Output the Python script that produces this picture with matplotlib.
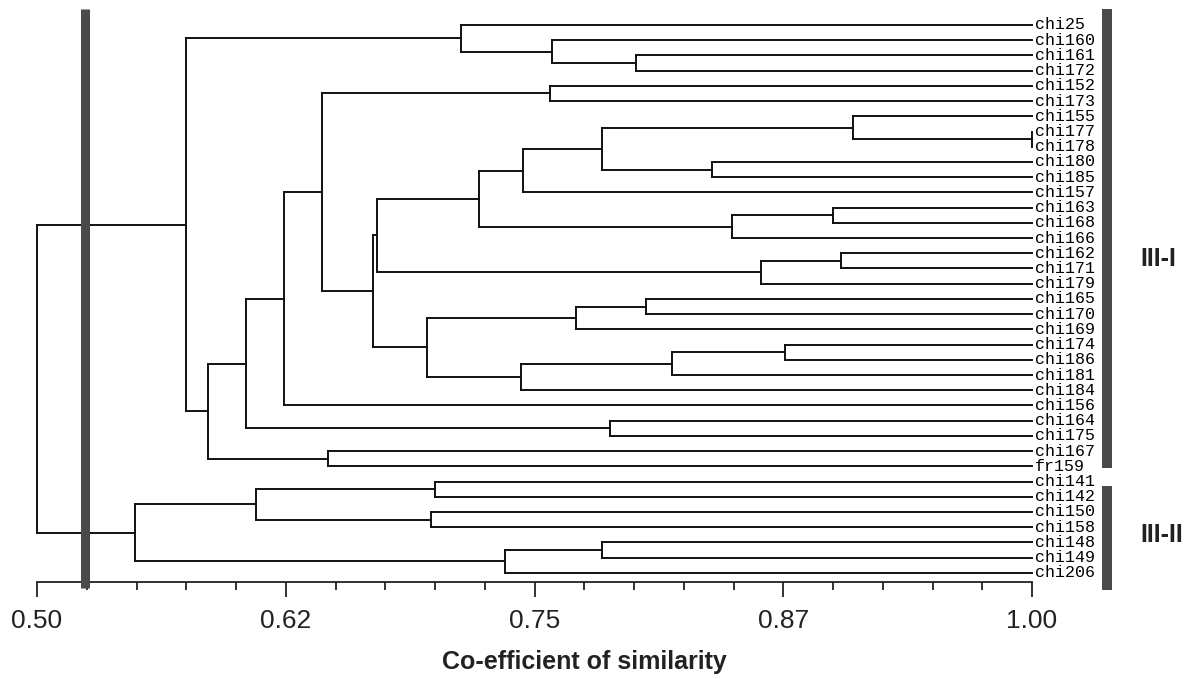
import matplotlib
matplotlib.use("Agg")
import matplotlib.pyplot as plt
from matplotlib.ticker import FixedLocator, MultipleLocator

# leaf order, top to bottom
leaves = ["chi25", "chi160", "chi161", "chi172", "chi152", "chi173", "chi155",
          "chi177", "chi178", "chi180", "chi185", "chi157", "chi163", "chi168",
          "chi166", "chi162", "chi171", "chi179", "chi165", "chi170", "chi169",
          "chi174", "chi186", "chi181", "chi184", "chi156", "chi164", "chi175",
          "chi167", "fr159", "chi141", "chi142", "chi150", "chi158", "chi148",
          "chi149", "chi206"]

# (new node, upper child, lower child, similarity at the join)
merges = [
    ("m1", "chi161", "chi172", 0.801),
    ("m2", "chi160", "m1", 0.759),
    ("m3", "chi25", "m2", 0.713),
    ("m4", "chi152", "chi173", 0.758),
    ("m5", "chi177", "chi178", 1.000),
    ("m6", "chi155", "m5", 0.910),
    ("m7", "chi180", "chi185", 0.839),
    ("m8", "m6", "m7", 0.784),
    ("m9", "m8", "chi157", 0.744),
    ("m10", "chi163", "chi168", 0.900),
    ("m11", "m10", "chi166", 0.849),
    ("m12", "m9", "m11", 0.722),
    ("m13", "chi162", "chi171", 0.904),
    ("m14", "m13", "chi179", 0.864),
    ("m15", "m12", "m14", 0.671),
    ("m16", "chi165", "chi170", 0.806),
    ("m17", "m16", "chi169", 0.771),
    ("m18", "chi174", "chi186", 0.876),
    ("m19", "m18", "chi181", 0.819),
    ("m20", "m19", "chi184", 0.743),
    ("m21", "m17", "m20", 0.696),
    ("m22", "m15", "m21", 0.669),
    ("m23", "m4", "m22", 0.643),
    ("m24", "m23", "chi156", 0.624),
    ("m25", "chi164", "chi175", 0.788),
    ("m26", "m24", "m25", 0.605),
    ("m27", "chi167", "fr159", 0.646),
    ("m28", "m26", "m27", 0.586),
    ("m29", "m3", "m28", 0.575),
    ("m30", "chi141", "chi142", 0.700),
    ("m31", "chi150", "chi158", 0.698),
    ("m32", "m30", "m31", 0.610),
    ("m33", "chi148", "chi149", 0.784),
    ("m34", "m33", "chi206", 0.735),
    ("m35", "m32", "m34", 0.549),
    ("m36", "m29", "m35", 0.500),
]

major_ticks = [0.50, 0.625, 0.75, 0.875, 1.00]
tick_labels = ["0.50", "0.62", "0.75", "0.87", "1.00"]
cut_off = 0.524

# cluster brackets: (label, first leaf, last leaf)
groups = [("III-I", "chi25", "fr159"), ("III-II", "chi141", "chi206")]

fig = plt.figure(figsize=(11.94, 6.79), dpi=100)
ax = fig.add_axes([37 / 1194, 97 / 679, 995 / 1194, 573 / 679])
ax.set_xlim(0.5, 1.0)
ax.set_ylim(36.6, -1.05)

line_kw = dict(color="#111111", lw=1.4, solid_capstyle="projecting", clip_on=False)

height = {name: 1.0 for name in leaves}
ypos = {name: i for i, name in enumerate(leaves)}
for node, a, b, s in merges:
    ax.plot([s, s], [ypos[a], ypos[b]], **line_kw)
    ax.plot([s, height[a]], [ypos[a], ypos[a]], **line_kw)
    ax.plot([s, height[b]], [ypos[b], ypos[b]], **line_kw)
    height[node] = s
    ypos[node] = (ypos[a] + ypos[b]) / 2

for name in leaves:
    ax.text(1.0015, ypos[name], name, fontsize=12, family="Liberation Mono",
            va="center", ha="left", color="#000000", clip_on=False)

# cut-off line
ax.plot([cut_off, cut_off], [-1.05, 37.0], color="#4a4a4a", lw=6.5,
        solid_capstyle="butt", clip_on=False, zorder=5)

# cluster brackets on the right
bar_x = 1.0377
for (label, first, last), (top, bottom) in zip(groups, [(-1.05, 29.1), (30.3, 37.1)]):
    ax.plot([bar_x, bar_x], [top, bottom], color="#4a4a4a", lw=7.2,
            solid_capstyle="butt", clip_on=False)
    mid = (ypos[first] + ypos[last]) / 2
    ax.text(1.0545, mid + (0.9 if label == "III-I" else 0.5), label,
            fontsize=18, fontweight="bold", family="Liberation Sans",
            va="center", ha="left", color="#222222", clip_on=False)

for side in ["top", "right", "left"]:
    ax.spines[side].set_visible(False)
ax.spines["bottom"].set_linewidth(1.3)
ax.spines["bottom"].set_color("#222222")
ax.set_yticks([])
ax.xaxis.set_major_locator(FixedLocator(major_ticks))
ax.xaxis.set_minor_locator(MultipleLocator(0.025))
ax.set_xticklabels(tick_labels, family="Liberation Sans", fontsize=19, color="#222222")
ax.tick_params(axis="x", which="major", length=10.8, width=1.3, pad=9, color="#222222")
ax.tick_params(axis="x", which="minor", length=5.8, width=1.3, color="#222222")

fig.text(584 / 1194, 1 - 662 / 679, "Co-efficient of similarity", fontsize=18,
         fontweight="bold", family="Liberation Sans", ha="center", va="center",
         color="#222222")

fig.savefig("out.png", dpi=100, facecolor="white")
